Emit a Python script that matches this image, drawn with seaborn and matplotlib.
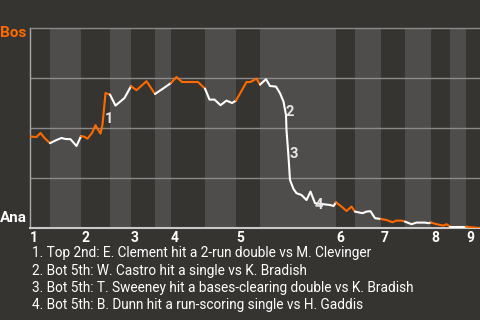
import matplotlib
matplotlib.use("Agg")
import matplotlib.pyplot as plt
import seaborn as sns
import pandas as pd

# ---------------- data ----------------
innings = ["1", "2", "3", "4", "5", "6", "7", "8", "9"]
# start of each half inning (plate-appearance scale), top/bottom alternating
half_starts = [0, 4, 10.2, 16, 20.2, 25, 28.2, 35, 41.2, 46, 61.2, 65, 70.2, 75, 80.2, 84, 87.2]
x_end = 90

pa = [0.1, 1.3, 2.1, 2.9, 4.0, 5.3, 6.3, 7.1, 8.1, 9.3,
      10.2, 10.8, 11.5, 12.4, 13.1, 13.6, 14.1, 14.5, 15.1, 16.0,
      17.1, 18.9, 20.2, 21.3, 23.3, 25.0, 26.6, 28.2, 29.3, 30.4,
      33.6, 35.0, 35.9, 36.9, 38.1, 39.3, 40.4, 41.2, 43.3, 44.1,
      45.3, 46.0, 47.2, 48.0, 49.2, 50.0, 50.7, 51.2, 51.3, 51.7,
      52.0, 52.7, 53.3, 54.3, 55.3, 56.1, 57.0, 60.0, 60.7, 61.2,
      62.3, 63.3, 64.3, 65.0, 66.5, 67.3, 68.1, 69.0, 70.2, 71.3,
      72.5, 73.3, 74.3, 75.0, 76.3, 77.3, 79.0, 79.7, 80.2, 81.3,
      82.7, 83.3, 84.0, 87.0, 87.2, 88.0, 90.0]
wp_bos = [45.7, 45.5, 47.5, 45.0, 42.4, 44.0, 45.0, 44.5, 44.4, 41.0,
          45.9, 45.7, 44.7, 47.5, 51.4, 49.2, 47.2, 51.7, 67.5, 66.7,
          61.2, 65.0, 70.9, 68.9, 73.4, 67.0, 69.7, 72.5, 75.5, 73.0,
          73.0, 69.7, 64.2, 64.2, 61.4, 63.7, 62.5, 63.7, 73.0, 73.0,
          74.7, 71.7, 74.4, 71.0, 70.7, 67.4, 63.2, 56.5, 49.0, 35.7,
          24.0, 19.5, 17.4, 16.5, 14.0, 18.2, 12.4, 11.5, 11.0, 12.8,
          10.7, 8.5, 10.7, 8.2, 7.4, 8.2, 8.4, 4.9, 4.5, 4.0,
          2.9, 3.7, 3.7, 3.2, 1.9, 2.7, 2.7, 2.4, 2.7, 1.9,
          1.2, 1.9, 0.7, 0.7, 0.7, 0.4, 0.0]

event_nums = ["1", "2", "3", "4"]
event_x = [15.8, 51.9, 52.8, 57.8]
event_y = [54.6, 58.2, 36.9, 11.5]
event_texts = [
    "1. Top 2nd: E. Clement hit a 2-run double vs M. Clevinger",
    "2. Bot 5th: W. Castro hit a single vs K. Bradish",
    "3. Bot 5th: T. Sweeney hit a bases-clearing double vs K. Bradish",
    "4. Bot 5th: B. Dunn hit a run-scoring single vs H. Gaddis",
]
team_top, team_bottom = "Bos", "Ana"

# ---------------- style ----------------
BG = "#363430"
LIGHT = "#4e4d4b"
ORANGE = "#ff6a00"
GRID = "#8a8a8a"

sns.set_theme(style="dark")
plt.rcParams['font.family'] = ['Roboto', 'DejaVu Sans']

fig = plt.figure(figsize=(4.8, 3.2), dpi=100, facecolor=BG)
ax = fig.add_axes([30 / 480, 92 / 320, 450 / 480, 200 / 320])
ax.set_facecolor(BG)

bounds = half_starts + [x_end]
for i in range(1, len(half_starts), 2):
    ax.axvspan(bounds[i], bounds[i + 1], color=LIGHT, lw=0, zorder=0)

for y in [25, 50, 75]:
    ax.axhline(y, color=GRID, lw=1, zorder=1)

df = pd.DataFrame({"pa": pa, "wp": wp_bos})
for i in range(len(half_starts)):
    seg = df[(df.pa >= bounds[i]) & (df.pa <= bounds[i + 1])]
    sns.lineplot(data=seg, x="pa", y="wp", ax=ax, sort=False, estimator=None,
                 color=ORANGE if i % 2 == 0 else "white", lw=1.5, zorder=3)

ax.set_xlim(0, x_end)
ax.set_ylim(0, 100)
ax.set_xlabel("")
ax.set_ylabel("")
ax.set_yticks([])
ax.grid(False)

ax.spines["right"].set_visible(False)
ax.spines["top"].set_color(GRID)
ax.spines["top"].set_linewidth(1)
ax.spines["left"].set_color("#a8a8a8")
ax.spines["left"].set_linewidth(1)
ax.spines["bottom"].set_color("#c8c8c8")
ax.spines["bottom"].set_linewidth(1.5)

ax.set_xticks(half_starts[::2])
ax.set_xticklabels(innings)
ax.tick_params(axis="x", length=0, pad=2, labelcolor="white", labelsize=10)
for lbl in ax.get_xticklabels():
    lbl.set_fontweight("bold")
    lbl.set_ha("left")

ax.text(-0.007, 0.975, team_top, transform=ax.transAxes, ha="right", va="center",
        color=ORANGE, fontsize=11, fontweight="bold")
ax.text(-0.007, 0.05, team_bottom, transform=ax.transAxes, ha="right", va="center",
        color="white", fontsize=11, fontweight="bold")

for n, x, y in zip(event_nums, event_x, event_y):
    ax.text(x, y, n, color="#e6e6e6", fontsize=10.5, fontweight="bold",
            ha="center", va="center", zorder=4)

for k, t in enumerate(event_texts):
    fig.text(32 / 480, 1 - (253 + 17.5 * k) / 320, t, color="white",
             fontsize=9.85, ha="left", va="center")

fig.savefig("out.png", dpi=100, facecolor=BG)
